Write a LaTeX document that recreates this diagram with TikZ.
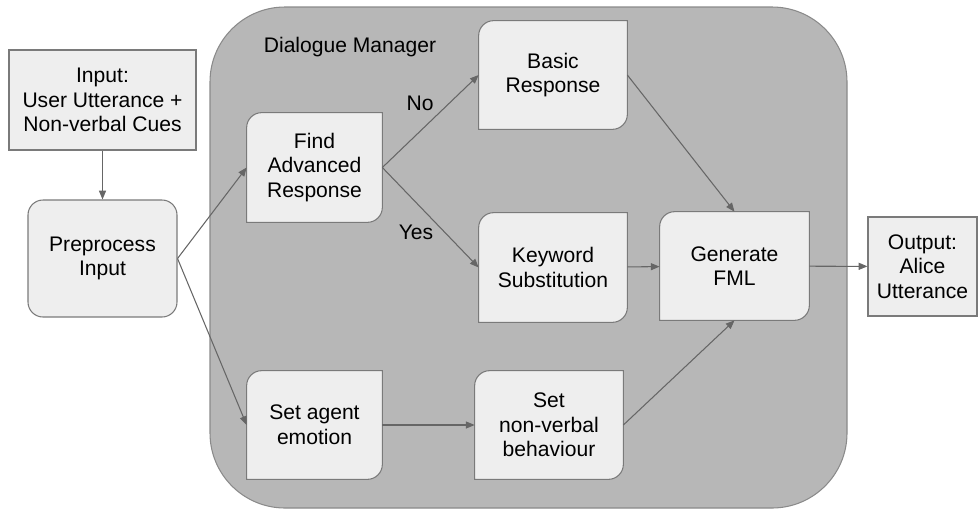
\documentclass[tikz,border=0pt]{standalone}
\usepackage{fontspec}
\setmainfont{Liberation Sans}
\usetikzlibrary{calc,arrows.meta}
\definecolor{boxfill}{HTML}{EEEEEE}
\definecolor{boxedge}{HTML}{7A7A7A}
\definecolor{dmfill}{HTML}{B7B7B7}
\definecolor{dmedge}{HTML}{8A8A8A}
\definecolor{wire}{HTML}{666666}
\pgfdeclarelayer{back}
\pgfdeclarelayer{mid}
\pgfsetlayers{back,mid,main}
\def\leafbox(#1){\draw[boxline] ($(#1.north west)+(0,-0.3cm)$) arc[start angle=180, end angle=90, radius=0.3cm] -- (#1.north east) -- ($(#1.south east)+(0,0.3cm)$) arc[start angle=0, end angle=-90, radius=0.3cm] -- (#1.south west) -- cycle;}
\tikzset{
	sz/.style 2 args={minimum width=#1*0.02cm, minimum height=#2*0.02cm},
	txt/.style={font=\fontsize{12}{14}\selectfont, align=center, inner sep=0pt},
	boxline/.style={draw=boxedge, fill=boxfill, line width=0.6pt},
	sqbox/.style={txt, boxline},
	leaf/.style={txt},
	wireto/.style={draw=wire, line width=0.6pt, -{Triangle[length=5pt,width=4pt]}}
}
\begin{document}
\begin{tikzpicture}[x=0.02cm, y=0.02cm]
		%%%%% START %%%%%
		\useasboundingbox (0,0) rectangle (980,-511);
		
		\begin{pgfonlayer}{back}
			\node[draw=dmedge, fill=dmfill, line width=0.6pt, rounded corners=1.5cm, sz={637}{501}] (dm) at (528.5,-257.5) {};
		\end{pgfonlayer}
		\node[txt] (dmlabel) at (350,-47) {Dialogue Manager};
		
		\node[sqbox, sz={187}{100}] (input) at (102.5,-100) {Input:\\User Utterance +\\Non-verbal Cues};
		\node[sqbox, rounded corners=0.3cm, sz={149}{117}] (prep) at (102.5,-258.5) {Preprocess\\Input};
		\node[sqbox, sz={109}{99}] (output) at (922.5,-266.5) {Output:\\Alice\\Utterance};
		
		\node[leaf, sz={135}{109}] (find) at (314.5,-167.5) {Find\\Advanced\\Response};
		\node[leaf, sz={148}{108}] (basic) at (553,-75) {Basic\\Response};
		\node[leaf, sz={148}{109}] (keyword) at (553,-267.5) {Keyword\\Substitution};
		\node[leaf, sz={149}{108}] (fml) at (734.5,-266) {Generate\\FML};
		\node[leaf, sz={135}{108}] (emotion) at (314.5,-425) {Set agent\\emotion};
		\node[leaf, sz={148}{108}] (nonverbal) at (549,-425) {Set\\non-verbal\\behaviour};
		
		\begin{pgfonlayer}{mid}
			\foreach \n in {find,basic,keyword,fml,emotion,nonverbal}
				\leafbox(\n);
		\end{pgfonlayer}
		
		\draw[wireto] (input) -- (prep);
		\draw[wireto] (prep.east) -- (find.west);
		\draw[wireto] (prep.east) -- (emotion.west);
		\draw[wireto] (find.east) -- (basic.west);
		\draw[wireto] (find.east) -- (keyword.west);
		\draw[wireto] (basic.east) -- (fml.north);
		\draw[wireto] (keyword) -- (fml);
		\draw[wireto] (nonverbal.east) -- (fml.south);
		\draw[wireto] (emotion) -- (nonverbal);
		\draw[wireto] (fml) -- (output);
		
		\node[txt] (nolabel) at (420,-103) {No};
		\node[txt] (yeslabel) at (416,-232) {Yes};
		%%%%% END %%%%%
	\end{tikzpicture}
\end{document}
